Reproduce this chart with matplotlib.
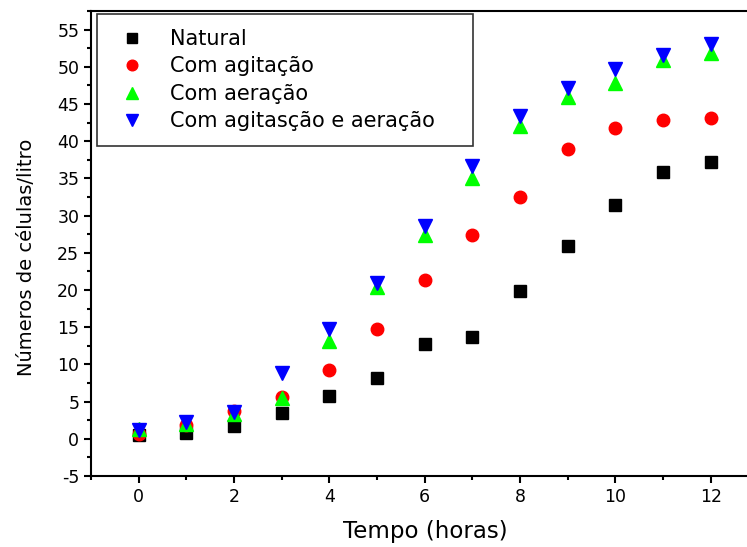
import matplotlib.pyplot as plt
import numpy as np
from matplotlib.ticker import MultipleLocator

plt.rcParams['font.family'] = ['DejaVu Sans']
plt.rcParams['axes.unicode_minus'] = False

tempo = [0, 1, 2, 3, 4, 5, 6, 7, 8, 9, 10, 11, 12]
natural = [0.5, 0.8, 1.7, 3.5, 5.8, 8.2, 12.7, 13.7, 19.8, 25.9, 31.4, 35.8, 37.2]
agitacao = [0.7, 1.9, 3.8, 5.6, 9.3, 14.8, 21.3, 27.4, 32.5, 38.9, 41.8, 42.9, 43.1]
aeracao = [1.3, 2.0, 3.3, 5.5, 13.2, 20.4, 27.4, 35.0, 42.0, 46.0, 47.8, 50.9, 51.8]
agit_aer = [1.2, 2.2, 3.6, 8.8, 14.7, 21.0, 28.6, 36.6, 43.4, 47.2, 49.7, 51.6, 53.0]

labels = ["Natural", "Com agitação", "Com aeração", "Com agitasção e aeração"]

fig = plt.figure(figsize=(7.47, 5.47), dpi=100)
ax = fig.add_axes([91/747, 71/547, 656/747, 465/547])

ax.plot(tempo, natural, 's', color='black', ms=8.6, label=labels[0])
ax.plot(tempo, agitacao, 'o', color='#ff0000', ms=9, label=labels[1])
ax.plot(tempo, aeracao, '^', color='#00ff00', ms=9.5, label=labels[2])
ax.plot(tempo, agit_aer, 'v', color='#0000ff', ms=9.5, label=labels[3])

ax.set_xlim(-1, 12.76)
ax.set_ylim(-5, 57.5)
ax.xaxis.set_major_locator(MultipleLocator(2))
ax.xaxis.set_minor_locator(MultipleLocator(1))
ax.yaxis.set_major_locator(MultipleLocator(5))
ax.yaxis.set_minor_locator(MultipleLocator(2.5))
ax.tick_params(which='major', direction='out', length=5, width=1.5, labelsize=12.5)
ax.tick_params(which='minor', direction='out', length=3, width=1.5)
for s in ['left', 'bottom', 'top']:
    ax.spines[s].set_linewidth(1.5)
ax.spines['right'].set_visible(False)

ax.set_xlabel("Tempo (horas)", fontsize=16.5)
ax.set_ylabel("Números de células/litro", fontsize=14)
ax.xaxis.set_label_coords(0.51, -0.095)
ax.yaxis.set_label_coords(-0.084, 0.47)

leg = ax.legend(loc='upper left', bbox_to_anchor=(6/656, 0.993, 376/656, 0.0),
                mode='expand', numpoints=1,
                fontsize=15, frameon=True, fancybox=False, edgecolor='black',
                handletextpad=0.8, labelspacing=0.36, borderpad=0.7,
                borderaxespad=0, handlelength=2, markerscale=0.85)
leg.get_frame().set_linewidth(1.2)

fig.savefig("out.png", dpi=100)
